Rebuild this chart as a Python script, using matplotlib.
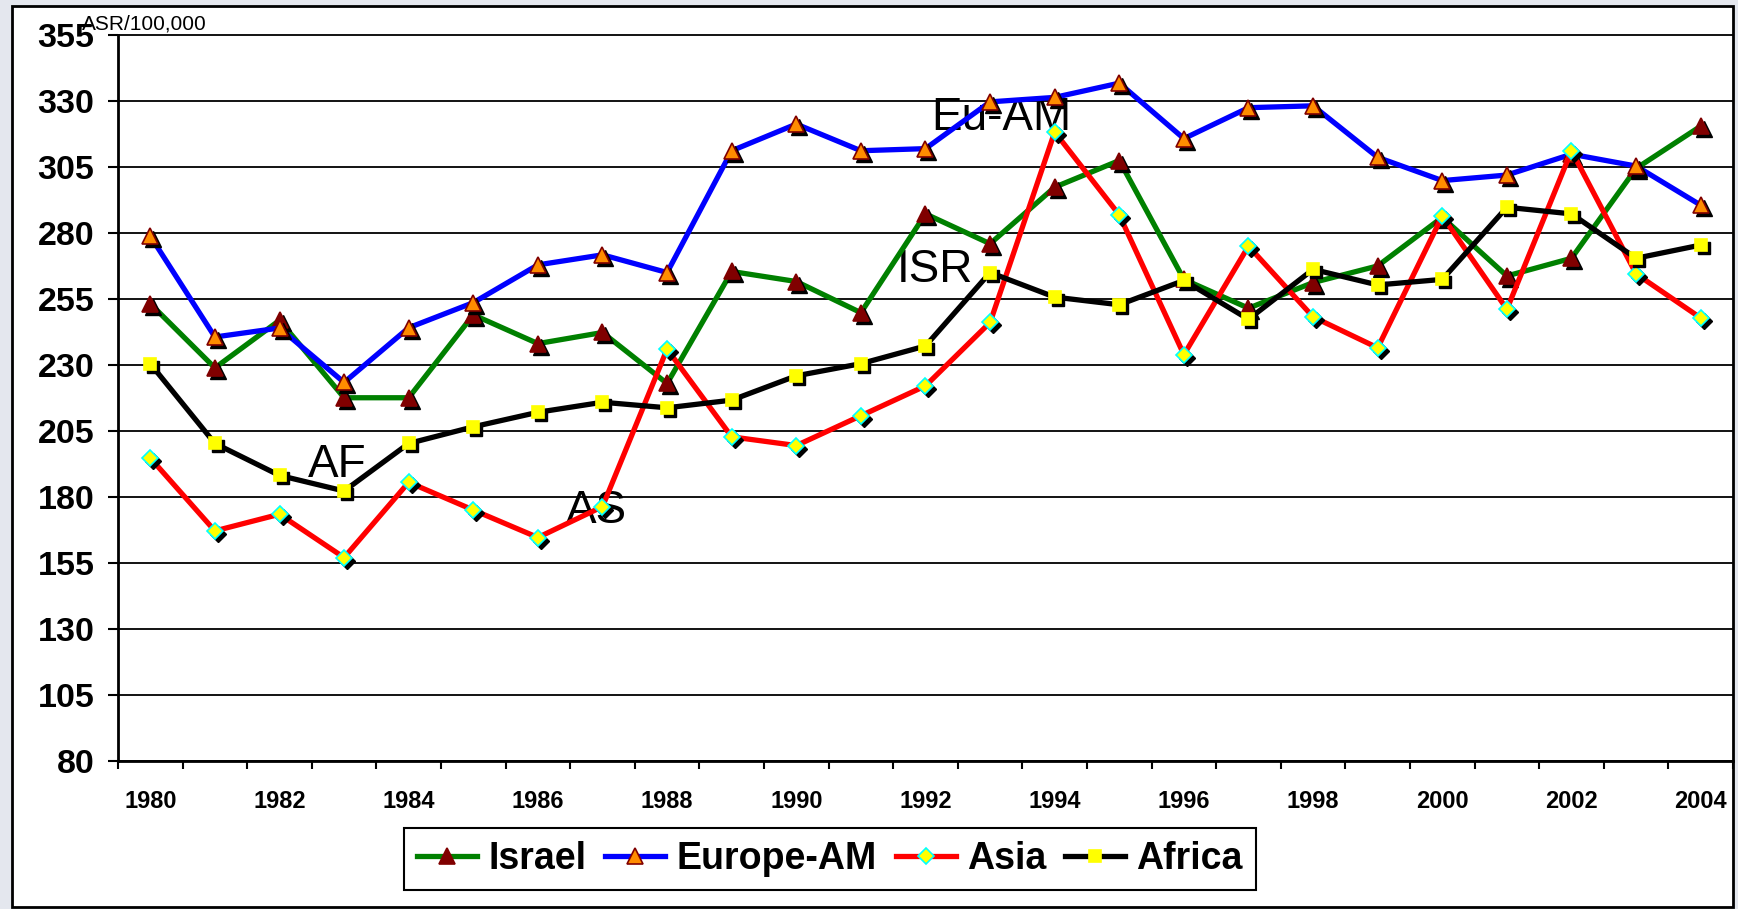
import matplotlib
matplotlib.use("Agg")
import matplotlib.pyplot as plt
from matplotlib.lines import Line2D
from matplotlib.patches import Rectangle
from matplotlib.transforms import ScaledTranslation

plt.rcParams['font.family'] = ['Liberation Sans', 'DejaVu Sans']

years = list(range(1980, 2005))
israel = [253.1, 228.8, 246.8, 217.5, 217.5, 248.9, 238.0, 242.2, 222.9, 265.3,
          261.5, 249.7, 287.1, 275.8, 297.2, 307.3, 262.3, 251.4, 261.1, 267.4,
          285.8, 263.6, 270.3, 304.3, 320.3]
europe_am = [278.7, 240.5, 243.9, 223.3, 244.0, 253.5, 267.8, 271.6, 264.9, 311.0,
             321.1, 311.0, 311.8, 329.5, 331.2, 336.6, 315.6, 327.3, 328.0, 308.5,
             299.7, 301.8, 309.7, 305.2, 290.4]
asia = [194.7, 167.1, 173.4, 157.0, 185.5, 175.0, 164.6, 176.3, 235.9, 202.7,
        199.4, 210.7, 222.0, 246.0, 318.1, 286.7, 233.8, 274.9, 248.1, 236.4,
        286.3, 251.0, 311.0, 264.4, 247.7]
africa = [230.4, 200.2, 188.1, 182.2, 200.2, 206.5, 212.0, 215.8, 213.7, 216.6,
          225.8, 230.4, 237.1, 264.9, 255.6, 252.7, 261.9, 247.2, 266.1, 260.2,
          262.3, 289.6, 287.1, 270.3, 275.3]
series_names = ['Israel', 'Europe-AM', 'Asia', 'Africa']
yticks = list(range(80, 356, 25))
annotations = [('Eu-AM', 13.17, 318.8), ('ISR', 12.15, 261.3),
               ('AF', 2.89, 187.5), ('AS', 6.9, 170.1)]

W, H = 1738, 909
fig = plt.figure(figsize=(W / 100, H / 100), dpi=100)
fig.patch.set_facecolor('#e4e7ee')

# white frame with border
fig.patches.append(Rectangle((12 / W, 2 / H), (1733 - 12) / W, (907 - 6) / H,
                             transform=fig.transFigure, facecolor='white',
                             edgecolor='black', linewidth=2, zorder=-1))

ax = fig.add_axes([118 / W, (H - 761) / H, (1733 - 118) / W, (761 - 34.5) / H])
ax.set_zorder(2)
ax.set_facecolor('none')
x = list(range(len(years)))

styles = [
    dict(data=israel, color='#008000', marker='^', mfc='#800000', mec='#800000', ms=11),
    dict(data=europe_am, color='#0000FF', marker='^', mfc='#FF8C00', mec='#800000', ms=11),
    dict(data=asia, color='#FF0000', marker='D', mfc='#FFFF00', mec='#00FFFF', ms=8),
    dict(data=africa, color='#000000', marker='s', mfc='#FFFF00', mec='#FFFF00', ms=9),
]
shadow = ax.transData + ScaledTranslation(3 / 100, -3 / 100, fig.dpi_scale_trans)
handles = []
for i, s in enumerate(styles):
    z = 3 + i
    ax.plot(x, s['data'], color=s['color'], lw=3.8, zorder=z, solid_joinstyle='miter')
    ax.plot(x, s['data'], ls='none', marker=s['marker'], ms=s['ms'], mfc='black',
            mec='black', transform=shadow, zorder=z + 0.1)
    ax.plot(x, s['data'], ls='none', marker=s['marker'], ms=s['ms'], mfc=s['mfc'],
            mec=s['mec'], mew=1.2, zorder=z + 0.2)
    handles.append(Line2D([], [], color=s['color'], lw=3.8, marker=s['marker'],
                          ms=s['ms'], mfc=s['mfc'], mec=s['mec'], mew=1.2))

ax.set_xlim(-0.5, len(years) - 0.5)
ax.set_ylim(80, 355)
ax.set_yticks(yticks)
ax.set_yticklabels([str(v) for v in yticks], fontsize=24.5, fontweight='bold')
ax.tick_params(axis='y', length=7, width=1.5, pad=10, direction='out')
for v in yticks:
    ax.axhline(v, color='black', lw=1.3, zorder=1, clip_on=False)

ax.set_xticks(x[::2])
ax.set_xticklabels([str(y) for y in years[::2]], fontsize=17, fontweight='bold')
ax.set_xticks([i - 0.5 for i in range(len(years) + 1)], minor=True)
ax.tick_params(axis='x', which='major', length=0, pad=21)
ax.tick_params(axis='x', which='minor', length=6, width=1.5, direction='out')

for sp in ['top', 'right']:
    ax.spines[sp].set_visible(False)
for sp in ['left', 'bottom']:
    ax.spines[sp].set_linewidth(2)

fig.text(82 / W, (H - 29) / H, 'ASR/100,000', fontsize=15, ha='left', va='baseline', zorder=3)

for label, xi, yi in annotations:
    ax.text(xi, yi, label, fontsize=33, ha='center', va='baseline', zorder=2.5)

leg = fig.legend(handles, series_names, loc='center', bbox_to_anchor=(830 / W, 1 - 859 / H),
                 ncol=4, prop=dict(weight='bold', size=27), frameon=True, fancybox=False,
                 edgecolor='black', framealpha=1, handlelength=1.6, handletextpad=0.3,
                 columnspacing=0.5, borderpad=0.35, numpoints=1)
leg.set_zorder(3)
leg.get_frame().set_linewidth(1.5)

fig.savefig('out.png', dpi=100, facecolor=fig.get_facecolor())
